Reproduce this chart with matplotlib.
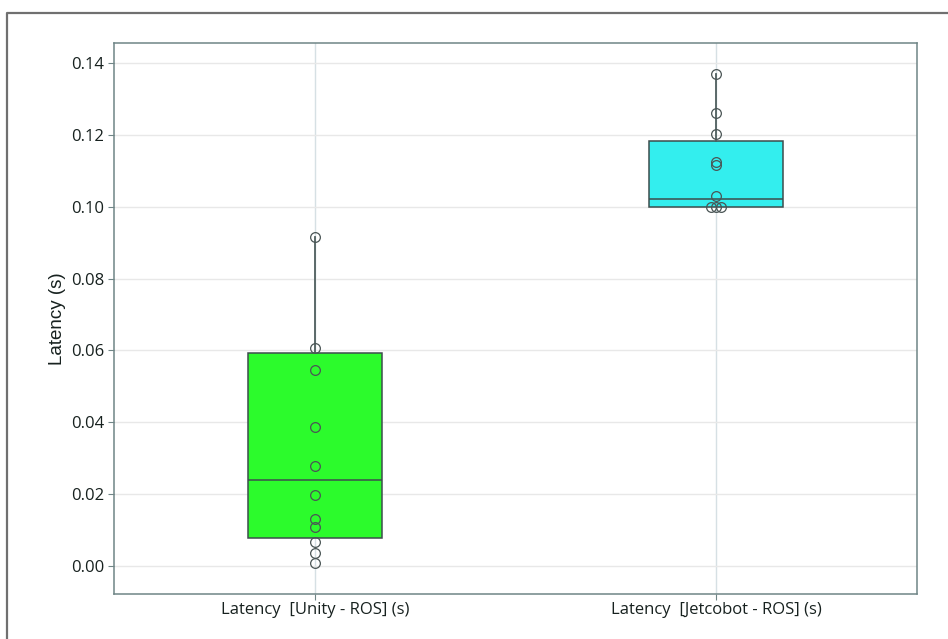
import matplotlib
matplotlib.use("Agg")
import matplotlib.pyplot as plt
from matplotlib.lines import Line2D

categories = ["Latency  [Unity - ROS] (s)", "Latency  [Jetcobot - ROS] (s)"]

unity_latency = [0.0915, 0.0608, 0.0545, 0.0386, 0.0279, 0.0198,
                 0.0130, 0.0109, 0.0066, 0.0037, 0.0008]
jetcobot_latency = [0.1371, 0.1260, 0.1202, 0.1125, 0.1116, 0.1030,
                    0.1000, 0.1000, 0.1000]

# box summaries (q1, median, q3, whisker low, whisker high)
q1 = [0.0077, 0.1000]
medians = [0.0239, 0.1021]
q3 = [0.0592, 0.1184]
whisker_lo = [0.0077, 0.1000]
whisker_hi = [0.0915, 0.1371]

box_colors = ["#2cfb2c", "#33eeee"]
edge = "#3d4d4d"

fig = plt.figure(figsize=(9.48, 6.39), dpi=100)
ax = fig.add_axes([0.1203, 0.0704, 0.8470, 0.8623])

stats = []
for i, name in enumerate(categories):
    stats.append(dict(label=name, q1=q1[i], med=medians[i], q3=q3[i],
                      whislo=whisker_lo[i], whishi=whisker_hi[i], fliers=[]))

bp = ax.bxp(stats, positions=[0, 1], widths=0.333, showcaps=False,
            showfliers=False, patch_artist=True,
            boxprops=dict(edgecolor=edge, linewidth=1.1),
            medianprops=dict(color=edge, linewidth=1.1),
            whiskerprops=dict(color="#4f5f5f", linewidth=1.3), zorder=2)
for patch, c in zip(bp["boxes"], box_colors):
    patch.set_facecolor(c)

# raw samples, exact repeats spread sideways
spread = 0.013
for pos, vals in enumerate([unity_latency, jetcobot_latency]):
    seen = {}
    for v in vals:
        seen[v] = seen.get(v, 0) + 1
    done = {}
    for v in vals:
        n = seen[v]
        k = done.get(v, 0)
        done[v] = k + 1
        x = pos + (k - (n - 1) / 2) * spread
        ax.plot(x, v, "o", ms=7, mfc="none", mec="#4a5555", mew=0.9, zorder=3)

ax.set_xlim(-0.5, 1.5)
ax.set_ylim(-0.0078, 0.1456)
ax.set_yticks([0.0, 0.02, 0.04, 0.06, 0.08, 0.10, 0.12, 0.14])
ax.set_yticklabels([f"{t:.2f}" for t in ax.get_yticks()])
ax.set_xticks([0, 1])
ax.set_xticklabels(categories)

ax.grid(axis="y", color="#e8e8e8", linewidth=1.0, zorder=0)
ax.grid(axis="x", color="#d6e0e4", linewidth=1.0, zorder=0)
ax.set_axisbelow(True)

for s in ax.spines.values():
    s.set_color("#6f8586")
    s.set_linewidth(1.1)

ax.tick_params(axis="both", length=4, width=0.8, color="#6f8586",
               labelcolor="#17211f")
ax.tick_params(axis="y", labelsize=12, pad=3)
ax.tick_params(axis="x", labelsize=12, pad=2)
for lab in ax.get_yticklabels() + ax.get_xticklabels():
    lab.set_fontfamily("Open Sans")
    lab.set_fontweight("medium")
ax.set_ylabel("Latency (s)", fontsize=13.5, family="Liberation Sans",
              color="#17211f", labelpad=4)

# outer frame of the figure
fig.add_artist(Line2D([0.0074, 0.0074, 1.0], [0.0, 0.9797, 0.9797],
                      transform=fig.transFigure, color="#707070", lw=1.6))

fig.savefig("out.png", dpi=100)
